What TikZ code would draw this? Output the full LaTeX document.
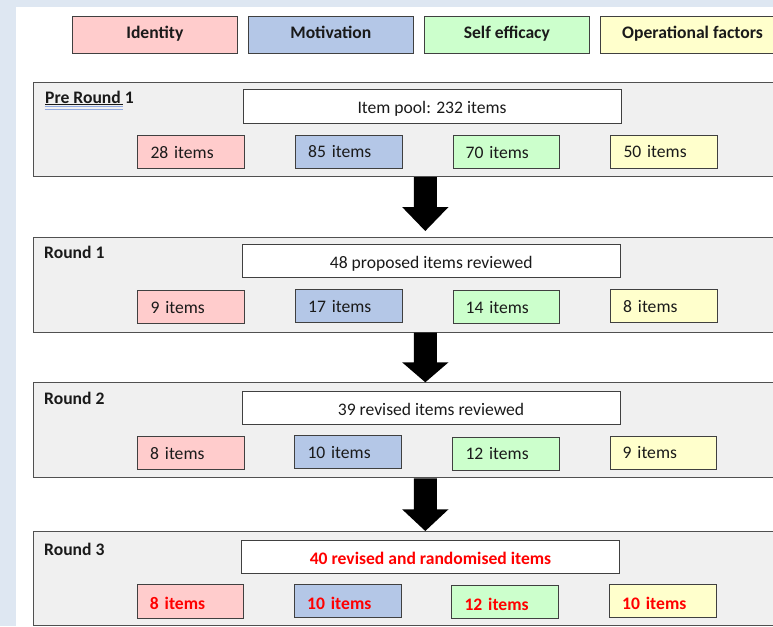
\documentclass[tikz,border=0pt]{standalone}
\usepackage{fontspec}
\setmainfont{Carlito}
\usetikzlibrary{calc}
\definecolor{bgblue}{HTML}{DEE7F2}
\definecolor{roundfill}{HTML}{F0F0F0}
\definecolor{roundedge}{HTML}{505050}
\definecolor{boxedge}{HTML}{404040}
\definecolor{cpink}{HTML}{FFCCCC}
\definecolor{cblue}{HTML}{B4C7E7}
\definecolor{cgreen}{HTML}{CCFFCC}
\definecolor{cyellow}{HTML}{FFFFCC}
\definecolor{txt}{HTML}{1A1A1A}
\definecolor{spell}{HTML}{8FA8E0}
\definecolor{redtxt}{HTML}{FF0000}
\newcommand{\blockarrow}[3]{% from, to, head length
  \fill[black] ($(#1)+(-11.5,0)$) -- ($(#2)+(-11.5,-#3)$) -- ($(#2)+(-23.2,-#3)$) -- (#2)
    -- ($(#2)+(23.2,-#3)$) -- ($(#2)+(11.5,-#3)$) -- ($(#1)+(11.5,0)$) -- cycle;}
\begin{document}
\begin{tikzpicture}[x=1pt,y=-1pt,
  every node/.style={font=\fontsize{17.6pt}{21pt}\selectfont, text=txt},
  legendbox/.style={draw=boxedge, line width=1pt, anchor=north west, minimum width=164.7pt,
    minimum height=37.5pt, inner sep=0pt, font=\fontsize{17.6pt}{21pt}\selectfont\bfseries,
    text height=11.4pt, text depth=4.2pt},
  roundbox/.style={draw=roundedge, fill=roundfill, line width=1pt, anchor=north west,
    minimum width=800pt, inner sep=0pt},
  poolbox/.style={draw=boxedge, fill=white, line width=1pt, anchor=north west,
    minimum width=378pt, minimum height=33.3pt, inner sep=0pt, text height=15pt, text depth=0pt},
  catbox/.style={draw=boxedge, line width=1pt, anchor=north west, minimum width=106.7pt,
    minimum height=33.3pt, inner xsep=12.7pt, inner ysep=0pt, text width=81.3pt, align=left,
    text height=12.4pt, text depth=0pt},
  roundlabel/.style={anchor=base west, inner sep=0pt, font=\fontsize{17.6pt}{21pt}\selectfont\bfseries},
  redtext/.style={text=redtxt, font=\fontsize{17.6pt}{21pt}\selectfont\bfseries},
  redcat/.style={redtext, text height=17pt},
]
\useasboundingbox (0,0) rectangle (773,626);
\clip (0,0) rectangle (773,626);
\fill[bgblue] (0,0) rectangle (773,626);
\fill[white] (16,6.7) rectangle (773,626);

% legend
\node[legendbox, fill=cpink] (lid) at (72,16) {Identity};
\node[legendbox, fill=cblue] (lmo) at (248,16) {Motivation};
\node[legendbox, fill=cgreen] (lse) at (424,16) {Self efficacy};
\node[legendbox, fill=cyellow, minimum width=184pt] (lop) at (600,16) {Operational factors};

% round containers
\node[roundbox, minimum height=94.5pt] (r0) at (33,81.7) {};
\node[roundbox, minimum height=95pt] (r1) at (33,236.7) {};
\node[roundbox, minimum height=95pt] (r2) at (33,382.3) {};
\node[roundbox, minimum height=94pt] (r3) at (33,531) {};

% round labels
\node[roundlabel] (lab0) at (45,103.3) {Pre Round 1};
\node[roundlabel] (lab1) at (44,258.3) {Round 1};
\node[roundlabel] (lab2) at (44,404.5) {Round 2};
\node[roundlabel] (lab3) at (44,555.3) {Round 3};
\draw[txt, line width=0.9pt] ($(lab0.base west)+(0,1.1)$) -- ++(77.5,0);
\draw[spell, line width=0.9pt] ($(lab0.base west)+(-0.5,3.4)$) -- ++(78.5,0);
\draw[spell, line width=0.9pt] ($(lab0.base west)+(-0.5,5.7)$) -- ++(78.5,0);

% pool boxes
\node[poolbox] (p0) at (242.5,89.3) {Item pool: 232 items};
\node[poolbox] (p1) at (241.7,244) {48 proposed items reviewed};
\node[poolbox] (p2) at (241.5,390.7) {39 revised items reviewed};
\node[poolbox, redtext] (p3) at (241,540) {40 revised and randomised items};

% category boxes
\node[catbox, fill=cpink]   (c0a) at (137.3,135) {28 items};
\node[catbox, fill=cblue]   (c0b) at (295,134.5) {85 items};
\node[catbox, fill=cgreen]  (c0c) at (452.5,135) {70 items};
\node[catbox, fill=cyellow] (c0d) at (610.3,134.5) {50 items};

\node[catbox, fill=cpink]   (c1a) at (137.3,290) {9 items};
\node[catbox, fill=cblue]   (c1b) at (295,289) {17 items};
\node[catbox, fill=cgreen]  (c1c) at (452.5,290) {14 items};
\node[catbox, fill=cyellow] (c1d) at (610,288.7) {8 items};

\node[catbox, fill=cpink]   (c2a) at (137,436) {8 items};
\node[catbox, fill=cblue]   (c2b) at (294.3,435) {10 items};
\node[catbox, fill=cgreen]  (c2c) at (452.3,436.5) {12 items};
\node[catbox, fill=cyellow] (c2d) at (609.5,435.5) {9 items};

\node[catbox, fill=cpink, redcat]   (c3a) at (136.7,584.3) {8 items};
\node[catbox, fill=cblue, redcat]   (c3b) at (294,583.7) {10 items};
\node[catbox, fill=cgreen, redcat]  (c3c) at (451.3,584.7) {12 items};
\node[catbox, fill=cyellow, redcat] (c3d) at (609,583.5) {10 items};

% block arrows between rounds
\coordinate (ax) at (425.3,0);
\coordinate (a1s) at (r0.south -| ax);
\coordinate (a1e) at ($(r1.north -| ax)+(0,-5.7)$);
\coordinate (a2s) at (r1.south -| ax);
\coordinate (a2e) at (r2.north -| ax);
\coordinate (a3s) at (r2.south -| ax);
\coordinate (a3e) at (r3.north -| ax);
\blockarrow{a1s}{a1e}{24}
\blockarrow{a2s}{a2e}{20}
\blockarrow{a3s}{a3e}{21.7}
\end{tikzpicture}
\end{document}
